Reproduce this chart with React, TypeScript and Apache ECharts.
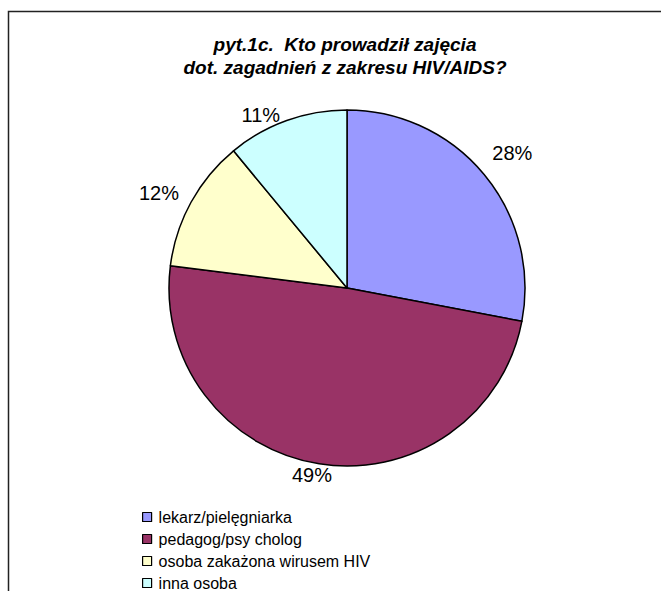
import React, { useEffect, useRef } from "react";
import * as echarts from "echarts";

const categories = [
  "lekarz/pielęgniarka",
  "pedagog/psy cholog",
  "osoba zakażona wirusem HIV",
  "inna osoba",
];
const values = [28, 49, 12, 11];
const colors = ["#9999FF", "#993366", "#FFFFCC", "#CCFFFF"];
const labelLen = [34, 11, 19, 6];
const labelLen2 = [-18, -14.5, -4.6, 4.6];
const titleLines = ["pyt.1c.  Kto prowadził zajęcia", "dot. zagadnień z zakresu HIV/AIDS?"];

export default function App() {
  const ref = useRef<HTMLDivElement>(null);
  useEffect(() => {
    if (!ref.current) return;
    const chart = echarts.init(ref.current, undefined, { renderer: "svg" });
    const font = "'Liberation Sans', Arial, sans-serif";
    chart.setOption({
      animation: false,
      backgroundColor: "#ffffff",
      title: {
        text: titleLines.join("\n"),
        left: 340,
        textAlign: "center",
        top: 28,
        textStyle: {
          fontFamily: font,
          fontSize: 19,
          fontWeight: "bold",
          fontStyle: "italic",
          color: "#000",
          lineHeight: 23,
        },
      },
      legend: {
        orient: "vertical",
        left: 142,
        top: 509,
        height: 120,
        padding: 0,
        itemWidth: 9,
        itemHeight: 9,
        itemGap: 6,
        icon: "rect",
        data: categories,
        textStyle: {
          fontFamily: font,
          fontSize: 16,
          color: "#000",
          lineHeight: 16,
          padding: [0, 0, 0, 2],
        },
        itemStyle: { borderColor: "#000", borderWidth: 1.2 },
      },
      graphic: [
        {
          type: "polyline",
          shape: { points: [[8.5, 591], [8.5, 11.5], [661, 11.5]] },
          style: { stroke: "#222", lineWidth: 1.5, fill: null },
        },
      ],
      series: [
        {
          type: "pie",
          center: [347, 288],
          radius: 178,
          startAngle: 90,
          clockwise: true,
          avoidLabelOverlap: false,
          itemStyle: { borderColor: "#000", borderWidth: 1.5 },
          label: {
            show: true,
            position: "outside",
            formatter: "{c}%",
            fontFamily: font,
            fontSize: 20,
            color: "#000",
            distanceToLabelLine: 0,
          },
          labelLine: { show: false },
          emphasis: { disabled: true },
          data: categories.map((name, i) => ({
            name,
            value: values[i],
            itemStyle: { color: colors[i] },
            labelLine: { show: false, length: labelLen[i], length2: labelLen2[i] },
          })),
        },
      ],
    });
    return () => chart.dispose();
  }, []);
  return (
    <div
      ref={ref}
      style={{ position: "fixed", left: 0, top: 0, width: 661, height: 591 }}
    />
  );
}
